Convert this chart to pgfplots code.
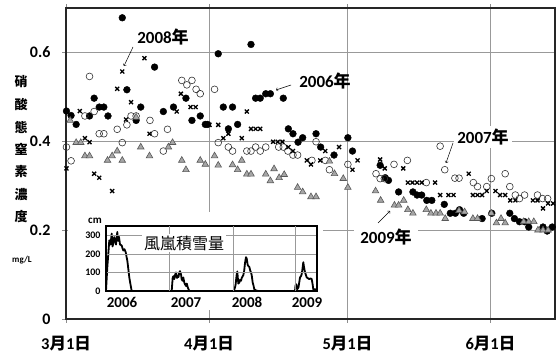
\documentclass[border=0pt]{standalone}
\usepackage{pgfplots}
\pgfplotsset{compat=1.18}
\usepackage{fontspec}
\setmainfont{Carlito}
\newfontfamily\cjk{Noto Sans CJK JP}
\begin{document}
\begin{tikzpicture}[x=1pt,y=1pt]
\begin{axis}[at={(66pt,36pt)}, anchor=south west, scale only axis,
  width=489pt, height=311pt,
  xmin=0, xmax=106, ymin=0, ymax=0.7,
  xtick={0,31,61,92},
  xticklabels={{3{\cjk 月}1{\cjk 日}},{4{\cjk 月}1{\cjk 日}},{5{\cjk 月}1{\cjk 日}},{6{\cjk 月}1{\cjk 日}}},
  ytick={0,0.2,0.4,0.6}, yticklabels={0,0.2,0.4,0.6},
  grid=major, major grid style={draw=black!40, line width=0.6pt},
  tick align=outside, major tick length=4pt,
  tick style={draw=black!45, line width=0.6pt},
  axis line style={draw=black!85, line width=1.5pt},
  xticklabel style={font=\fontsize{16.5}{18}\selectfont\bfseries, yshift=-10pt},
  yticklabel style={font=\fontsize{16}{18}\selectfont\bfseries, xshift=-8pt},
  clip=false]
% 2006
\addplot[only marks, mark=*, mark size=3.4pt, mark options={fill=black, draw=black}] coordinates {
(0.1,0.468)(1.1,0.458)(2.2,0.438)(5.1,0.457)(6.1,0.497)(7.2,0.477)(8.2,0.477)(9.1,0.457)
(12.2,0.678)(13.2,0.516)(15.2,0.447)(16.2,0.477)(19.2,0.567)(21.1,0.467)(23.3,0.477)(26.0,0.497)
(27.3,0.447)(29.1,0.457)(30.2,0.438)(30.7,0.438)(33.0,0.597)(34.1,0.477)(35.2,0.428)(36.1,0.477)
(37.2,0.438)(40.1,0.618)(41.1,0.497)(42.1,0.497)(43.3,0.507)(44.3,0.507)(47.1,0.497)(48.2,0.428)
(49.2,0.417)(50.3,0.398)(51.3,0.408)(54.2,0.417)(55.2,0.387)(58.1,0.369)(61.1,0.408)(62.1,0.378)
(68.1,0.346)(69.2,0.318)(69.9,0.312)(72.1,0.286)(75.2,0.286)(76.1,0.279)(77.1,0.279)(78.2,0.267)
(79.3,0.267)(82.0,0.258)(83.3,0.238)(84.4,0.238)(85.3,0.246)(86.2,0.238)(90.2,0.226)(92.3,0.238)
(96.2,0.238)(97.2,0.226)(98.3,0.219)(99.4,0.219)(100.3,0.207)(103.4,0.207)(104.3,0.198)(105.4,0.207)
};
% 2007
\addplot[only marks, mark=o, mark size=3.4pt, mark options={draw=black!80, line width=0.6pt}] coordinates {
(0.1,0.387)(1.1,0.356)(4.1,0.457)(5.1,0.546)(6.1,0.467)(7.2,0.417)(8.2,0.417)(11.1,0.427)
(12.2,0.397)(13.2,0.437)(14.1,0.457)(15.2,0.457)(18.2,0.447)(19.2,0.417)(21.1,0.378)(22.0,0.427)
(25.1,0.537)(26.2,0.527)(27.3,0.537)(28.2,0.517)(29.1,0.507)(32.2,0.517)(33.0,0.397)(35.2,0.387)
(36.1,0.378)(39.2,0.378)(40.1,0.378)(41.1,0.387)(42.1,0.378)(43.3,0.387)(46.1,0.387)(47.1,0.387)
(48.1,0.378)(49.2,0.369)(50.2,0.369)(53.3,0.357)(54.2,0.399)(56.2,0.357)(57.1,0.336)(61.1,0.348)
(67.2,0.327)(68.1,0.316)(69.0,0.316)(71.1,0.348)(74.0,0.357)(78.1,0.307)(81.1,0.389)(82.1,0.336)
(84.3,0.317)(85.2,0.317)(88.3,0.307)(89.2,0.298)(91.2,0.298)(92.2,0.316)(95.2,0.327)(96.2,0.298)
(97.4,0.279)(98.3,0.271)(99.4,0.279)(102.2,0.279)(103.3,0.271)(104.4,0.271)
};
% 2008
\addplot[only marks, mark=x, mark size=2.8pt, mark options={draw=black, line width=1.3pt}] coordinates {
(0.1,0.339)(3.0,0.468)(4.1,0.407)(5.1,0.398)(6.1,0.327)(7.2,0.318)(10.0,0.288)(11.1,0.518)
(12.2,0.557)(13.0,0.449)(14.1,0.488)(17.0,0.587)(18.1,0.417)(24.0,0.467)(24.9,0.507)(27.0,0.477)
(28.1,0.477)(31.1,0.437)(33.0,0.437)(34.1,0.407)(35.2,0.417)(38.1,0.407)(39.2,0.467)(40.1,0.428)
(41.1,0.428)(42.1,0.428)(44.9,0.399)(45.9,0.399)(46.9,0.399)(48.2,0.387)(49.2,0.378)(52.2,0.357)
(53.1,0.348)(55.1,0.357)(56.2,0.378)(59.2,0.387)(62.1,0.336)(63.2,0.357)(68.1,0.359)(69.1,0.339)
(73.1,0.339)(74.1,0.307)(75.1,0.307)(76.1,0.307)(77.1,0.307)(80.0,0.307)(81.1,0.279)(82.9,0.279)
(84.0,0.279)(87.3,0.327)(88.2,0.279)(89.2,0.279)(90.2,0.279)(91.2,0.288)(93.1,0.288)(94.1,0.279)
(95.2,0.279)(96.3,0.267)(97.4,0.267)(101.2,0.267)(102.2,0.267)(103.4,0.249)(104.5,0.260)(105.6,0.260)
};
% 2009
\addplot[only marks, mark=triangle*, mark size=3.8pt, mark options={fill=black!35, draw=black!65, line width=0.6pt}] coordinates {
(0.9,0.447)(2.2,0.397)(3.2,0.397)(4.1,0.367)(5.1,0.367)(9.0,0.357)(10.0,0.367)(11.1,0.378)
(12.2,0.357)(15.2,0.454)(16.2,0.387)(18.1,0.367)(22.2,0.387)(23.1,0.397)(25.1,0.357)(26.0,0.336)
(29.1,0.357)(30.2,0.348)(32.2,0.367)(33.0,0.346)(36.1,0.347)(37.2,0.336)(38.1,0.357)(39.2,0.326)
(40.1,0.326)(43.3,0.326)(44.3,0.311)(45.1,0.338)(46.2,0.318)(47.3,0.325)(50.2,0.296)(51.3,0.286)
(53.1,0.275)(54.2,0.275)(57.1,0.355)(58.2,0.327)(60.1,0.316)(61.1,0.296)(67.1,0.288)(68.2,0.267)
(71.2,0.256)(72.1,0.256)(73.2,0.267)(74.1,0.246)(75.2,0.238)(78.1,0.246)(79.1,0.238)(80.2,0.238)
(81.1,0.238)(82.2,0.226)(85.2,0.244)(86.4,0.241)(88.2,0.226)(89.2,0.226)(92.2,0.238)(93.3,0.216)
(94.3,0.226)(95.2,0.216)(99.2,0.219)(100.3,0.219)(101.4,0.219)(102.3,0.200)(103.4,0.200)(104.5,0.200)
};
\end{axis}
% y label
\foreach \c [count=\i] in {硝,酸,態,窒,素,濃,度}
  \node[font=\fontsize{13}{15}\selectfont\bfseries\cjk] at (21pt,{355-82-22.5*(\i-1)}) {\c};
\node[font=\fontsize{9}{10}\selectfont\bfseries] at (22pt,95pt) {mg/L};
% annotations
\node[font=\fontsize{17}{19}\selectfont\bfseries] at (163pt,318pt) {2008{\cjk 年}};
\draw[->, line width=0.5pt] (133pt,308pt) -- (124pt,289pt);
\node[font=\fontsize{17}{19}\selectfont\bfseries] at (325pt,274pt) {2006{\cjk 年}};
\draw[->, line width=0.5pt] (291pt,270pt) -- (276pt,265pt);
\node[font=\fontsize{17}{19}\selectfont\bfseries, fill=white, inner sep=3pt] at (483pt,218pt) {2007{\cjk 年}};
\draw[->, line width=0.5pt] (453pt,212pt) -- (446pt,192pt);
\node[font=\fontsize{17}{19}\selectfont\bfseries, fill=white, inner xsep=6pt, inner ysep=3pt] at (386pt,118pt) {2009{\cjk 年}};
\draw[->, line width=0.5pt] (378pt,132pt) -- (390pt,144pt);
% inset
\fill[white] (67.5pt,45pt) rectangle (323pt,143pt);
\begin{axis}[at={(106pt,64pt)}, anchor=south west, scale only axis,
  width=211pt, height=65pt,
  xmin=0, xmax=211, ymin=0, ymax=350,
  ytick={0,100,200,300}, yticklabels={0,100,200,300},
  xtick={16,80,141,201}, xticklabels={2006,2007,2008,2009},
  extra x ticks={63,127,189}, extra x tick labels={},
  extra x tick style={grid=major, major tick length=0pt},
  ymajorgrids, major grid style={draw=black!40, line width=0.5pt},
  major tick length=0pt,
  axis line style={draw=black, line width=1.2pt},
  xticklabel style={font=\fontsize{15}{17}\selectfont\bfseries, yshift=-3pt},
  yticklabel style={font=\fontsize{10}{11}\selectfont\bfseries, xshift=-2pt},
  axis on top]
\addplot[black, line width=1.8pt, line join=round] coordinates {
(0,0)(1.3,127)(3.3,273)(4.5,250)(5.7,309)(6.5,240)(7.3,255)(8.2,290)(9,280)(10,250)(11.3,318)
(12,270)(13,291)(14,250)(15.7,245)(16.5,230)(17.3,218)(18.5,225)(19.7,209)(20.5,185)(21.3,164)
(22.3,120)(23.3,73)(24.5,35)(25.7,0)(64,0)
(65.7,0)(66.7,73)(67.5,80)(68.3,64)(69,85)(70,100)(71,70)(71.7,82)(72.5,75)(73.3,100)(74,107)
(75,90)(75.7,62)(76.7,55)(77.3,73)(78.3,45)(79,36)(80,27)(80.8,40)(81.7,20)(82.5,10)(83.3,0)(127,0)
(127.3,0)(128.5,10)(129.5,30)(130.7,89)(131.3,105)(132.3,40)(133.3,45)(134,60)(135,55)(135.7,70)
(137.3,85)(138.2,110)(139,150)(140,182)(140.7,175)(141.7,140)(142.3,135)(143.3,130)(144.2,110)
(145,100)(145.7,85)(146.7,45)(147.5,30)(148.3,9)(150,3)(152.3,0)(189,0)
(189.5,30)(190.3,36)(191.3,10)(192.5,20)(194,73)(195,80)(195.7,91)(196.5,120)(197.3,155)(198,130)
(199,100)(200,85)(200.7,73)(201.5,70)(203.3,64)(204.5,68)(205.7,64)(206.5,40)(207.3,9)(208.5,5)
(209,10)(210,3)(211,5)
};
\end{axis}
\node[font=\fontsize{11}{12}\selectfont\bfseries] at (95pt,134pt) {cm};
\node[font=\fontsize{16}{18}\selectfont\cjk, fill=white, inner sep=2pt] at (184pt,112pt) {風嵐積雪量};
\pgfresetboundingbox
\path (0pt,0pt) rectangle (556pt,355pt);
\end{tikzpicture}
\end{document}
